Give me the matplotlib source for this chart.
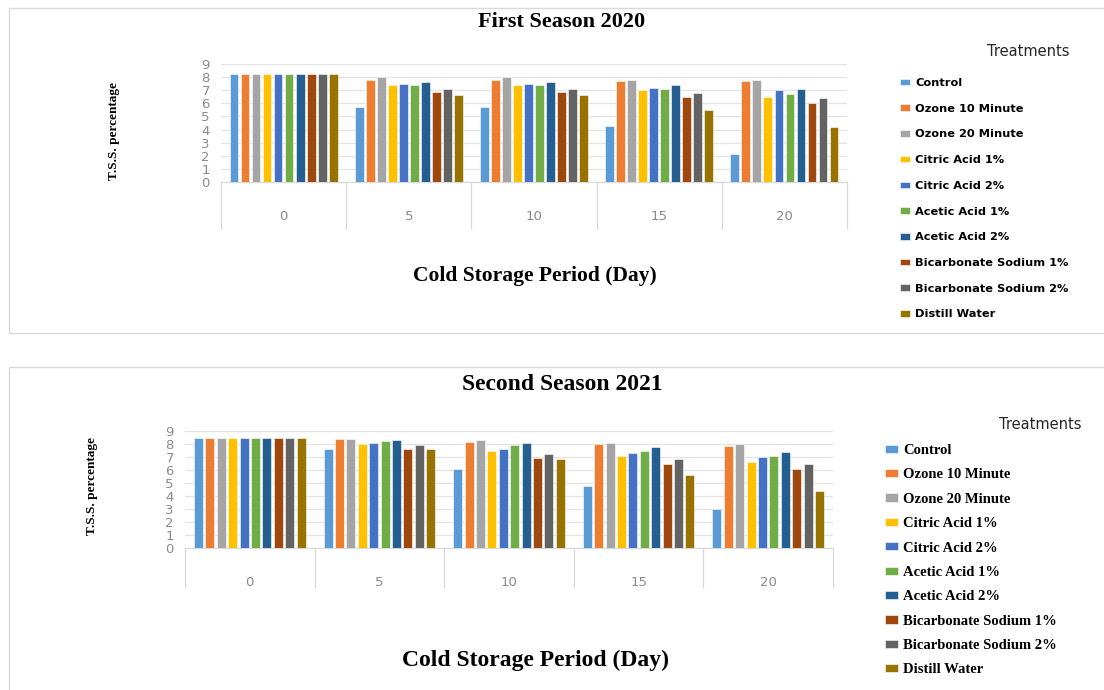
import matplotlib
matplotlib.use("Agg")
import matplotlib.pyplot as plt
from matplotlib.patches import Rectangle
import numpy as np

# ---- data ---------------------------------------------------------------
days = ["0", "5", "10", "15", "20"]
treatments = [
    "Control", "Ozone 10 Minute", "Ozone 20 Minute", "Citric Acid 1%",
    "Citric Acid 2%", "Acetic Acid 1%", "Acetic Acid 2%",
    "Bicarbonate Sodium 1%", "Bicarbonate Sodium 2%", "Distill Water",
]
colors = ["#5B9BD5", "#ED7D31", "#A5A5A5", "#FFC000", "#4472C4",
          "#70AD47", "#255E91", "#9E480E", "#636363", "#997300"]

# T.S.S. (%) per treatment over cold storage days, first season 2020
season1_control = [8.2, 5.7, 5.7, 4.3, 2.1]
season1_ozone10 = [8.2, 7.8, 7.8, 7.7, 7.7]
season1_ozone20 = [8.2, 8.0, 8.0, 7.8, 7.8]
season1_citric1 = [8.2, 7.4, 7.4, 7.0, 6.5]
season1_citric2 = [8.2, 7.5, 7.5, 7.2, 7.0]
season1_acetic1 = [8.2, 7.4, 7.4, 7.1, 6.7]
season1_acetic2 = [8.2, 7.6, 7.6, 7.4, 7.1]
season1_bicarb1 = [8.2, 6.9, 6.9, 6.5, 6.0]
season1_bicarb2 = [8.2, 7.1, 7.1, 6.8, 6.4]
season1_distill = [8.2, 6.6, 6.6, 5.5, 4.2]

# T.S.S. (%) per treatment over cold storage days, second season 2021
season2_control = [8.5, 7.6, 6.1, 4.8, 3.0]
season2_ozone10 = [8.5, 8.4, 8.15, 8.0, 7.85]
season2_ozone20 = [8.5, 8.4, 8.3, 8.1, 8.0]
season2_citric1 = [8.5, 8.0, 7.5, 7.05, 6.6]
season2_citric2 = [8.5, 8.1, 7.6, 7.3, 7.0]
season2_acetic1 = [8.5, 8.2, 7.9, 7.5, 7.1]
season2_acetic2 = [8.5, 8.3, 8.1, 7.75, 7.4]
season2_bicarb1 = [8.5, 7.65, 6.9, 6.5, 6.05]
season2_bicarb2 = [8.5, 7.9, 7.2, 6.85, 6.5]
season2_distill = [8.5, 7.65, 6.85, 5.6, 4.35]

season1 = [season1_control, season1_ozone10, season1_ozone20, season1_citric1,
           season1_citric2, season1_acetic1, season1_acetic2, season1_bicarb1,
           season1_bicarb2, season1_distill]
season2 = [season2_control, season2_ozone10, season2_ozone20, season2_citric1,
           season2_citric2, season2_acetic1, season2_acetic2, season2_bicarb1,
           season2_bicarb2, season2_distill]

# ---- figure -------------------------------------------------------------
W, H = 1104, 690
fig = plt.figure(figsize=(W / 100, H / 100), dpi=100)
fig.patch.set_facecolor("white")


def px_axes(x0, x1, y_top, y_bottom):
    """Axes from pixel box (origin top-left)."""
    return fig.add_axes([x0 / W, (H - y_bottom) / H, (x1 - x0) / W, (y_bottom - y_top) / H])


def draw_panel(ax, values, sep_len, label_pad):
    n = len(values)
    x = np.arange(len(days))
    step = 0.088
    width = 0.07
    for i, (vals, col, name) in enumerate(zip(values, colors, treatments)):
        ax.bar(x + (i - (n - 1) / 2) * step, vals, width=width, color=col,
               edgecolor="white", linewidth=0.4, label=name, zorder=3)
    ax.set_xlim(-0.5, len(days) - 0.5)
    ax.set_ylim(0, 9)
    ax.set_yticks(range(0, 10))
    ax.grid(axis="y", color="#e3e3e3", linewidth=0.9, zorder=0)
    for s in ["top", "right", "left"]:
        ax.spines[s].set_visible(False)
    ax.spines["bottom"].set_color("#d9d9d9")
    ax.spines["bottom"].set_linewidth(0.9)
    # category separators below the axis
    ax.set_xticks(np.arange(-0.5, len(days)), labels=[""] * (len(days) + 1))
    ax.tick_params(axis="x", which="major", length=sep_len, width=0.9,
                   color="#d9d9d9", direction="out")
    ax.set_xticks(x, labels=days, minor=True)
    ax.tick_params(axis="x", which="minor", length=0, pad=label_pad,
                   labelsize=9.5, labelcolor="#8a8a8a")
    ax.tick_params(axis="y", length=0, pad=8, labelsize=9.5, labelcolor="#8a8a8a")
    for t in ax.get_xticklabels(minor=True) + ax.get_yticklabels():
        t.set_fontfamily("DejaVu Sans")


serif = ["Liberation Serif", "DejaVu Serif"]

# panel frames
fig.add_artist(Rectangle((9 / W, (H - 333) / H), (W + 10 - 9) / W, (333 - 8) / H,
                         transform=fig.transFigure, fill=False,
                         edgecolor="#d9d9d9", linewidth=1.0))
fig.add_artist(Rectangle((9 / W, -0.05), (W + 10 - 9) / W, (H - 367) / H + 0.05,
                         transform=fig.transFigure, fill=False,
                         edgecolor="#d9d9d9", linewidth=1.0))

# ---- first season -------------------------------------------------------
ax1 = px_axes(221, 847, 64, 182)
draw_panel(ax1, season1, sep_len=34, label_pad=20)
fig.text(562 / W, 1 - 22 / H, "First Season 2020", ha="center", va="center",
         fontsize=16, fontweight="bold", family=serif)
fig.text(535 / W, 1 - 276 / H, "Cold Storage Period (Day)", ha="center", va="center",
         fontsize=15.5, fontweight="bold", family=serif)
fig.text(114 / W, 1 - 131 / H, "T.S.S. percentage", rotation=90, ha="center", va="center",
         fontsize=9.5, fontweight="bold", family=serif)
fig.text(1028 / W, 1 - 52 / H, "Treatments", ha="center", va="center",
         fontsize=10.5, color="#262626", family="DejaVu Sans")
leg1 = fig.legend(*ax1.get_legend_handles_labels(), loc="upper left",
                  bbox_to_anchor=(900 / W, 1 - 78 / H), frameon=False,
                  borderpad=0, borderaxespad=0, handlelength=0.9, handleheight=0.5,
                  handletextpad=0.45, labelspacing=1.38,
                  prop={"family": "DejaVu Sans", "weight": "bold", "size": 8.2})

# ---- second season ------------------------------------------------------
ax2 = px_axes(185, 833, 431, 548)
draw_panel(ax2, season2, sep_len=29, label_pad=20)
fig.text(562 / W, 1 - 385 / H, "Second Season 2021", ha="center", va="center",
         fontsize=17, fontweight="bold", family=serif)
fig.text(536 / W, 1 - 660 / H, "Cold Storage Period (Day)", ha="center", va="center",
         fontsize=17, fontweight="bold", family=serif)
fig.text(92 / W, 1 - 486 / H, "T.S.S. percentage", rotation=90, ha="center", va="center",
         fontsize=9.5, fontweight="bold", family=serif)
fig.text(1040 / W, 1 - 424 / H, "Treatments", ha="center", va="center",
         fontsize=10.5, color="#262626", family="DejaVu Sans")
leg2 = fig.legend(*ax2.get_legend_handles_labels(), loc="upper left",
                  bbox_to_anchor=(885 / W, 1 - 444 / H), frameon=False,
                  borderpad=0, borderaxespad=0, handlelength=0.9, handleheight=0.5,
                  handletextpad=0.35, labelspacing=0.78,
                  prop={"family": serif, "weight": "bold", "size": 10.5})

fig.savefig("out.png", dpi=100, facecolor="white")
